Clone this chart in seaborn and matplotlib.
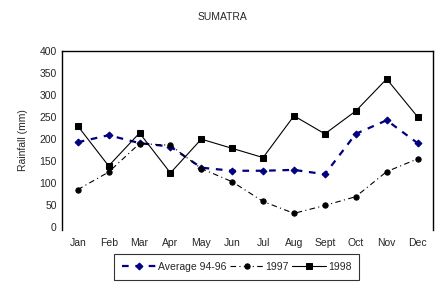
import pandas as pd
import numpy as np
import matplotlib
matplotlib.use('Agg')
import matplotlib.pyplot as plt
import seaborn as sns

months = ['Jan','Feb','Mar','Apr','May','Jun','Jul','Aug','Sept','Oct','Nov','Dec']
avg_94_96 = [192, 208, 190, 182, 134, 127, 127, 129, 119, 211, 242, 190]
rain_1997 = [84, 124, 189, 185, 132, 102, 57, 30, 48, 68, 125, 154]
rain_1998 = [229, 138, 213, 122, 199, 178, 157, 252, 211, 263, 336, 250]

df = pd.DataFrame({'month': months, 'Average 94-96': avg_94_96,
                   '1997': rain_1997, '1998': rain_1998})

sns.set_style('white')
plt.rcParams['font.family'] = ['Liberation Sans', 'DejaVu Sans']
plt.rcParams['font.size'] = 7.5

fig = plt.figure(figsize=(4.45, 2.89), dpi=100)
ax = fig.add_axes([0.140, 0.204, 0.833, 0.620])

sns.lineplot(data=df, x='month', y='Average 94-96', ax=ax, color='#000080',
             linestyle=(0, (3, 3)), linewidth=1.6, marker='D', markersize=3.5,
             markeredgecolor='#000080', label='Average 94-96')
sns.lineplot(data=df, x='month', y='1997', ax=ax, color='black',
             linestyle=(0, (5, 3, 1, 3)), linewidth=0.8, marker='o', markersize=3.8,
             markeredgecolor='black', label='1997')
sns.lineplot(data=df, x='month', y='1998', ax=ax, color='black',
             linestyle='-', linewidth=0.8, marker='s', markersize=3.8,
             markeredgecolor='black', label='1998')

ax.set_xlim(-0.5, 11.5)
ax.set_ylim(-8, 400)
ax.set_yticks(np.arange(0, 401, 50))
ax.tick_params(length=0, labelsize=7.5, pad=4)
ax.tick_params(axis='x', pad=6)
ax.set_xlabel('')
ax.set_ylabel('Rainfall (mm)', fontsize=7.5, labelpad=8)
for side in ['left', 'top', 'right']:
    ax.spines[side].set_color('black')
    ax.spines[side].set_linewidth(1.0)
ax.spines['bottom'].set_visible(False)

fig.text(0.5, 0.94, 'SUMATRA', ha='center', va='center', fontsize=7.5)

leg = ax.legend(loc='center', ncol=3, frameon=True, fancybox=False, fontsize=7.5,
                handlelength=3.3, columnspacing=0.3, handletextpad=0.15, borderpad=0.75,
                borderaxespad=0)
leg.get_frame().set_edgecolor('black')
leg.get_frame().set_linewidth(0.8)
leg.set_bbox_to_anchor((0.532, 0.077), transform=fig.transFigure)

fig.savefig('out.png', dpi=100)
